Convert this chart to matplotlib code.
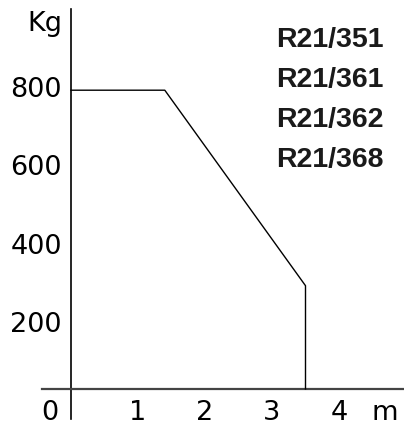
import matplotlib
matplotlib.use("Agg")
import matplotlib.pyplot as plt

# load curve (m, Kg)
dist = [0, 1.4, 3.5, 3.5]
load = [800, 800, 300, 36]

y_ticks = [200, 400, 600, 800]
x_ticks = [1, 2, 3, 4]
models = ["R21/351", "R21/361", "R21/362", "R21/368"]

fig = plt.figure(figsize=(4.04, 4.26), dpi=100)
ax = fig.add_axes([0, 0, 1, 1])
ax.set_xlim(-71 / 67, 333 / 67)
ax.set_ylim(-23 / 0.391, 403 / 0.391)
ax.axis("off")

# axes lines
ax.plot([0, 0], [(403 - 9) / 0.391, (403 - 419) / 0.391], color="black", lw=1.2)
ax.plot([-29 / 67, 333 / 67], [36, 36], color="#444444", lw=1.6)

ax.plot(dist, load, color="black", lw=1.0)

fs = 19.5
for v in y_ticks:
    ax.text(-9 / 67, v, str(v), ha="right", va="center", fontsize=fs, family="DejaVu Sans")
ax.text(-9 / 67, (403 - 24) / 0.391, "Kg", ha="right", va="center", fontsize=fs, family="DejaVu Sans")
ax.text(-21 / 67, -26, "0", ha="center", va="center", fontsize=fs, family="DejaVu Sans")
for v in x_ticks:
    ax.text(v, -26, str(v), ha="center", va="center", fontsize=fs, family="DejaVu Sans")
ax.text(314 / 67, -26, "m", ha="center", va="center", fontsize=fs, family="DejaVu Sans")

for i, m in enumerate(models):
    ax.text(205 / 67, (403 - 40 - 40 * i) / 0.391, m, ha="left", va="center",
            fontsize=20.5, fontweight="bold", family="Liberation Sans", color="#1a1a1a")

fig.savefig("out.png", dpi=100)
